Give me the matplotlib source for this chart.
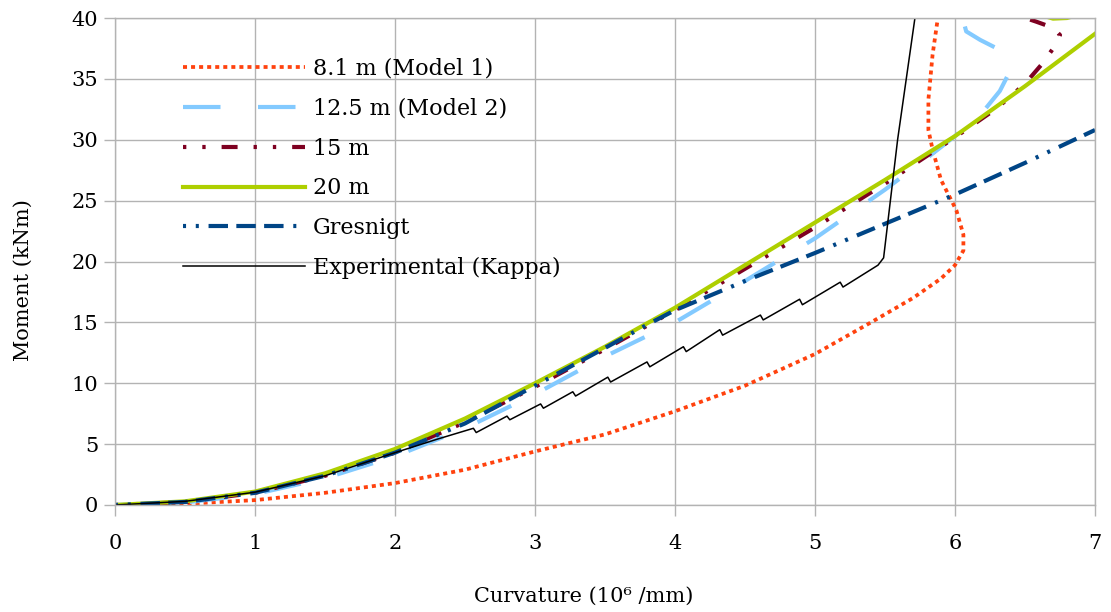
import numpy as np
import matplotlib
matplotlib.use("Agg")
from matplotlib import pyplot as plt

plt.rcParams['font.family'] = ['DejaVu Serif']
plt.rcParams['lines.scale_dashes'] = False

# 8.1 m (Model 1)
x_m1 = [0, 0.5, 1, 1.5, 2, 2.5, 3, 3.5, 4, 4.5, 5, 5.4, 5.7, 5.9, 6.0, 6.06, 6.06, 6.01, 5.9, 5.84, 5.81, 5.81, 5.84, 5.88]
y_m1 = [0, 0.1, 0.4, 1.0, 1.8, 2.9, 4.4, 5.8, 7.7, 9.8, 12.4, 15.0, 17.0, 18.6, 19.7, 20.9, 22.2, 24.2, 26.7, 29.2, 30.8, 33.3, 37.0, 40.2]

# 12.5 m (Model 2)
x_m2 = [0, 0.5, 1, 1.5, 2, 2.5, 3, 3.5, 4, 4.5, 5, 5.5, 5.8, 6.0, 6.2, 6.32, 6.4, 6.38, 6.3, 6.18, 6.08, 6.05]
y_m2 = [0, 0.2, 0.9, 2.2, 4.0, 6.3, 9.1, 12.2, 15.0, 18.4, 21.9, 25.9, 28.5, 30.3, 32.3, 34.0, 35.8, 36.6, 37.5, 38.2, 38.9, 40.2]

# 15 m
x_15 = [0, 0.5, 1, 1.5, 2, 2.5, 3, 3.5, 4, 4.5, 5, 5.5, 6, 6.3, 6.5, 6.62, 6.72, 6.75, 6.7, 6.58, 6.45]
y_15 = [0, 0.25, 1.0, 2.4, 4.3, 6.8, 9.7, 12.8, 16.0, 19.4, 22.8, 26.4, 30.2, 32.6, 34.6, 36.2, 37.8, 38.6, 39.2, 39.7, 40.2]

# 20 m
x_20 = [0, 0.5, 1, 1.5, 2, 2.5, 3, 3.5, 4, 4.5, 5, 5.5, 6, 6.5, 7, 7.3, 7.1, 6.8, 6.7, 6.6]
y_20 = [0, 0.3, 1.1, 2.6, 4.6, 7.1, 10.0, 13.0, 16.2, 19.7, 23.2, 26.7, 30.3, 34.4, 38.7, 41.3, 41.0, 40.0, 39.95, 40.3]

# Gresnigt
x_gr = [0, 0.5, 1, 1.5, 2, 2.5, 3, 3.5, 3.8, 4, 4.5, 5, 5.5, 6, 6.5, 7]
y_gr = [0, 0.25, 1.0, 2.4, 4.3, 6.7, 9.8, 12.9, 14.8, 16.0, 18.4, 20.7, 23.1, 25.5, 28.1, 30.8]

# Experimental (Kappa), with the small load drops
x_ex = [0, 0.5, 1, 1.5, 2, 2.3, 2.56, 2.58, 2.8, 2.82, 3.04, 3.06, 3.27, 3.29, 3.52, 3.54,
        3.8, 3.82, 4.06, 4.08, 4.32, 4.34, 4.61, 4.63, 4.89, 4.91, 5.18, 5.2, 5.45, 5.49, 5.59, 5.72]
y_ex = [0, 0.3, 1.05, 2.4, 4.3, 5.4, 6.3, 5.95, 7.3, 7.0, 8.3, 7.95, 9.3, 8.95, 10.5, 10.1,
        11.75, 11.35, 13.0, 12.6, 14.4, 13.95, 15.6, 15.2, 16.9, 16.45, 18.3, 17.9, 19.7, 20.3, 30.0, 40.5]

fig = plt.figure(figsize=(11.11, 6.12), dpi=100)
ax = fig.add_axes([115/1111, 1 - 505/612, 980/1111, 487/612])

grid_c = '#b3b3b3'

ax.plot(x_m1, y_m1, color='#ff420e', lw=2.7, dashes=(2.9, 2.9), dash_capstyle='butt', label='8.1 m (Model 1)')
ax.plot(x_m2, y_m2, color='#83caff', lw=3.0, dashes=(27, 27), dash_capstyle='butt', label='12.5 m (Model 2)')
ax.plot(x_15, y_15, color='#7e0021', lw=3.0, dashes=(2.4, 11.5, 2.4, 11.5, 11.5, 11.5), dash_capstyle='butt', label='15 m')
ax.plot(x_20, y_20, color='#aecf00', lw=3.0, label='20 m')
ax.plot(x_gr, y_gr, color='#004586', lw=3.0, dashes=(2.2, 7, 2.2, 7, 14, 6, 14, 6, 14, 7), dash_capstyle='butt', label='Gresnigt')
ax.plot(x_ex, y_ex, color='black', lw=1.1, label='Experimental (Kappa)')

ax.set_xlim(0, 7)
ax.set_ylim(0, 40)
ax.set_xticks(np.arange(0, 8, 1))
ax.set_yticks(np.arange(0, 45, 5))
ax.grid(True, color=grid_c, lw=1.0)
ax.set_axisbelow(True)
for s in ax.spines.values():
    s.set_color(grid_c)
    s.set_linewidth(1.0)
ax.tick_params(axis='both', colors=grid_c, labelcolor='black', length=8, width=1.0, labelsize=15)
ax.tick_params(axis='x', pad=13)
ax.tick_params(axis='y', pad=4)

ax.set_xlabel('Curvature (10\u2076 /mm)', fontsize=15)
ax.set_ylabel('Moment (kNm)', fontsize=15)
ax.xaxis.set_label_coords(0.478, -0.167)
ax.yaxis.set_label_coords(-0.0837, 0.462)

ax.legend(loc='upper left', bbox_to_anchor=(68/980, 1 - 40/487), frameon=False,
          fontsize=16, handlelength=5.5, handletextpad=0.35, labelspacing=0.8,
          borderpad=0, borderaxespad=0)

plt.savefig('out.png', dpi=100)
